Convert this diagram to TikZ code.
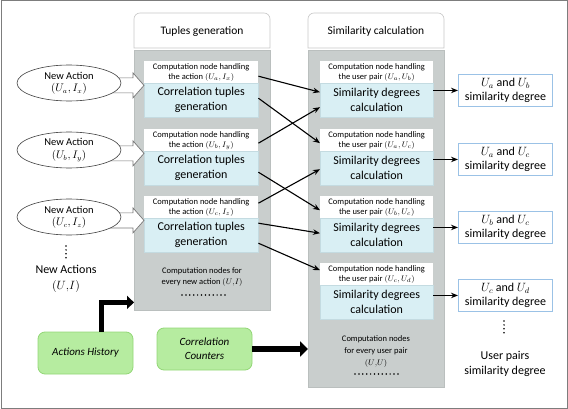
\documentclass[tikz,border=0pt]{standalone}
\usepackage{fontspec}
\setmainfont{Carlito}
\usetikzlibrary{shapes.geometric,arrows.meta,calc}
\definecolor{panelgray}{RGB}{201,206,205}
\definecolor{panelline}{RGB}{186,191,190}
\definecolor{bluefill}{RGB}{217,239,244}
\definecolor{blueline}{RGB}{196,219,225}
\definecolor{outline}{RGB}{155,194,230}
\definecolor{greenfill}{RGB}{182,236,160}
\definecolor{greenline}{RGB}{146,214,118}
\definecolor{hdrline}{RGB}{200,200,200}
\definecolor{framecol}{RGB}{125,125,125}
\definecolor{hollowline}{RGB}{120,120,120}
\begin{document}
\begin{tikzpicture}[x=1pt,y=-1pt,
  panel/.style={fill=panelgray,draw=panelline,inner sep=0pt,anchor=north west},
  hdr/.style={draw=hdrline,fill=white,line width=0.6pt},
  lbl/.style={fill=white,inner sep=0pt,align=center,anchor=north west,minimum height=22pt,font=\fontsize{8.5}{10}\selectfont},
  blu/.style={fill=bluefill,draw=blueline,inner sep=0pt,align=center,anchor=north west,minimum height=34pt,font=\fontsize{12}{15}\selectfont},
  outbox/.style={draw=outline,line width=0.9pt,fill=white,inner sep=0pt,align=center,anchor=north west,minimum width=94pt,minimum height=32pt,font=\fontsize{12}{14}\selectfont},
  ell/.style={ellipse,draw=black!75,fill=white,line width=0.6pt,inner sep=0pt,minimum width=104pt,minimum height=36pt,align=center,font=\fontsize{10.5}{12.5}\selectfont},
  hollowpath/.style={draw=hollowline,fill=white,line width=0.7pt,line join=miter},
  conn/.style={line width=1.1pt,-{Stealth[length=7pt,width=5.5pt]}},
  thickarr/.style={line width=5pt,-{Triangle[length=7pt,width=13pt]}},
  grn/.style={draw=greenline,fill=greenfill,line width=0.8pt,rounded corners=7pt,inner sep=0pt,align=center,minimum width=95pt,minimum height=42pt,font=\fontsize{11}{14}\selectfont\itshape},
  dotline/.style={line width=1.7pt,dash pattern=on 0pt off 3.9pt,line cap=round},
  txt/.style={inner sep=0pt,align=center}]
\useasboundingbox (0,0) rectangle (568,409);
\draw[draw=framecol,line width=1pt] (1,1) rectangle (567,408);
% headers
\draw[hdr] (202,48) -- (134,48) -- (134,40) [rounded corners=6pt] -- (134,13) -- (270,13) -- (270,40) [sharp corners] -- (270,48) -- cycle;
\node[txt,font=\fontsize{11.5}{14}\selectfont] (h1) at (202,31) {Tuples generation};
\draw[hdr] (376,48) -- (308,48) -- (308,40) [rounded corners=6pt] -- (308,13) -- (444,13) -- (444,40) [sharp corners] -- (444,48) -- cycle;
\node[txt,font=\fontsize{11.5}{14}\selectfont] (h2) at (376,31) {Similarity calculation};
% panels
\node[panel,minimum width=136pt,minimum height=260pt] (lp) at (134,50) {};
\node[panel,minimum width=136pt,minimum height=337pt] (rp) at (308,50) {};
% left boxes
\node[lbl,minimum width=114pt] (lw1) at (144,61) {Computation node handling\\the action $(U_a, I_x)$};
\node[blu,minimum width=114pt] (lb1) at (144,83) {Correlation tuples\\generation};
\node[lbl,minimum width=114pt] (lw2) at (144,129) {Computation node handling\\the action $(U_b, I_y)$};
\node[blu,minimum width=114pt] (lb2) at (144,151) {Correlation tuples\\generation};
\node[lbl,minimum width=114pt] (lw3) at (144,196) {Computation node handling\\the action $(U_c, I_z)$};
\node[blu,minimum width=114pt] (lb3) at (144,218) {Correlation tuples\\generation};
\node[txt,font=\fontsize{8.5}{11}\selectfont] (lnote) at (202,277) {Computation nodes for\\every new action $(U{,}I)$};
\draw[dotline] (182,295) -- (225,295);
% right boxes
\node[lbl,minimum width=113pt] (rw1) at (320,61) {Computation node handling\\the user pair $(U_a, U_b)$};
\node[blu,minimum width=113pt] (rb1) at (320,83) {Similarity degrees\\calculation};
\node[lbl,minimum width=113pt] (rw2) at (320,129) {Computation node handling\\the user pair $(U_a, U_c)$};
\node[blu,minimum width=113pt] (rb2) at (320,151) {Similarity degrees\\calculation};
\node[lbl,minimum width=113pt] (rw3) at (320,196) {Computation node handling\\the user pair $(U_b, U_c)$};
\node[blu,minimum width=113pt] (rb3) at (320,218) {Similarity degrees\\calculation};
\node[lbl,minimum width=113pt] (rw4) at (320,263) {Computation node handling\\the user pair $(U_c, U_d)$};
\node[blu,minimum width=113pt] (rb4) at (320,285) {Similarity degrees\\calculation};
\node[txt,font=\fontsize{8.5}{12}\selectfont] (rnote) at (376,352) {Computation nodes\\for every user pair\\$(U{,}U)$};
\draw[dotline] (355,374) -- (399,374);
% output boxes
\node[outbox] (o1) at (458,74) {$U_a$ and $U_b$\\similarity degree};
\node[outbox] (o2) at (458,143) {$U_a$ and $U_c$\\similarity degree};
\node[outbox] (o3) at (458,211) {$U_b$ and $U_c$\\similarity degree};
\node[outbox] (o4) at (458,279) {$U_c$ and $U_d$\\similarity degree};
\draw[dotline] (504,321) -- (504,336);
\node[txt,font=\fontsize{12}{15}\selectfont] (upairs) at (505,364) {User pairs\\similarity degree};
% hollow arrows and ellipses
\coordinate (t1) at ([yshift=-2pt]lw1.south west);
\coordinate (t2) at ([yshift=-2pt]lw2.south west);
\coordinate (t3) at ([yshift=-2pt]lw3.south west);
\foreach \t in {t1,t2,t3}{
  \draw[hollowpath] (\t) -- ++(-11,-12.5) -- ++(0,5) -- ++(-26,0) -- ++(0,15) -- ++(26,0) -- ++(0,5) -- cycle;
}
\node[ell] (e1) at (69,83) {New Action\\$(U_a, I_x)$};
\node[ell] (e2) at (69,150) {New Action\\$(U_b, I_y)$};
\node[ell] (e3) at (69,217) {New Action\\$(U_c, I_z)$};
\draw[dotline] (66,246) -- (66,261);
\node[txt,font=\fontsize{12}{16}\selectfont] (newacts) at (66,279) {New Actions\\$(U{,}I)$};
% crossing connectors
\draw[conn] ([yshift=-4pt]lw1.east) -- ([yshift=8pt]rb1.west);
\draw[conn] ([yshift=2pt]lb1.east) -- ([yshift=-3pt]rw2.west);
\draw[conn] ([yshift=-3pt]lw2.east) -- ([yshift=-7pt]rb1.west);
\draw[conn] ([yshift=-4pt]lb2.east) -- ([yshift=-3pt]rw3.west);
\draw[conn] ([yshift=4pt]lw3.east) -- ([yshift=-1pt]rb2.west);
\draw[conn] ([yshift=12pt]lb3.east) -- ([yshift=2pt]rb3.west);
\draw[conn] ([yshift=-8pt]lb3.east) -- ([yshift=4pt]rw4.west);
% output connectors
\draw[conn] (rb1.east |- o1.west) -- (o1.west);
\draw[conn] (rb2.east |- o2.west) -- (o2.west);
\draw[conn] (rb3.east |- o3.west) -- (o3.west);
\draw[conn] (rb4.east |- o4.west) -- (o4.west);
% green boxes
\node[grn] (ah) at (85.5,353) {Actions History};
\node[grn] (cc) at (204.5,349) {Correlation\\Counters};
\draw[thickarr] ([xshift=15.5pt]ah.north) |- ([yshift=8pt]lp.south west);
\draw[thickarr,line width=6pt,-{Triangle[length=8pt,width=15pt]}] (cc.east) -- (rp.west |- cc.east);
\end{tikzpicture}
\end{document}
